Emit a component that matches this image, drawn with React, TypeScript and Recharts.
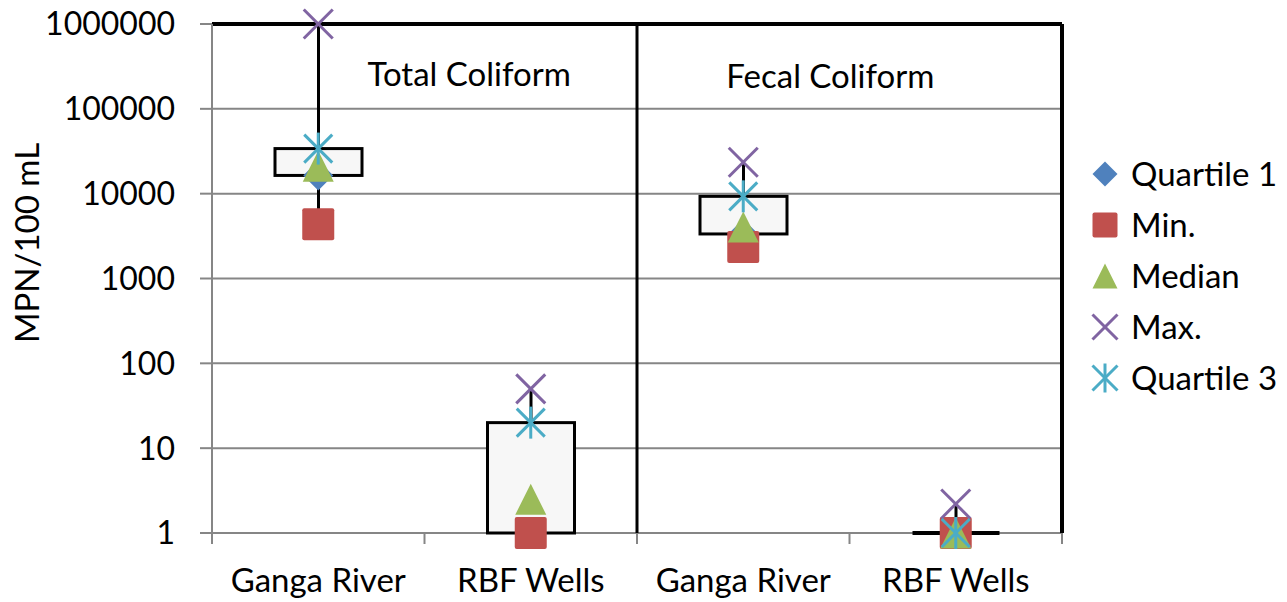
import {
  Bar,
  CartesianGrid,
  ComposedChart,
  Legend,
  ReferenceDot,
  ReferenceLine,
  Scatter,
  XAxis,
  YAxis,
} from 'recharts';

const categories = ['Ganga River', 'RBF Wells', 'Ganga River', 'RBF Wells'];
const quartile1 = [16400, 1, 3350, 1];
const minimum = [4350, 1, 2350, 1];
const median = [21000, 2.5, 4050, 1];
const maximum = [1000000, 50, 23500, 2.2];
const quartile3 = [34000, 20, 9300, 1];
const yTicks = [1, 10, 100, 1000, 10000, 100000, 1000000];
const seriesNames = ['Quartile 1', 'Min.', 'Median', 'Max.', 'Quartile 3'];

const data = categories.map((name, i) => ({
  name,
  x: i + 0.5,
  q1: quartile1[i],
  min: minimum[i],
  median: median[i],
  max: maximum[i],
  q3: quartile3[i],
  box: [quartile1[i], quartile3[i]],
  whisker: [minimum[i], maximum[i]],
}));

const FONT = 'Lato, sans-serif';
const FS = 33;
const GRID = '#868686';

const COLORS = {
  q1: '#4f81bd',
  min: '#c0504d',
  median: '#9bbb59',
  max: '#8064a2',
  q3: '#4bacc6',
};

function marker(kind: string, cx: number, cy: number, s: number) {
  const h = s / 2;
  switch (kind) {
    case 'Quartile 1':
      return (
        <polygon
          points={`${cx},${cy - h} ${cx + h},${cy} ${cx},${cy + h} ${cx - h},${cy}`}
          fill={COLORS.q1}
        />
      );
    case 'Min.':
      return <rect x={cx - h} y={cy - h} width={s} height={s} rx={2} fill={COLORS.min} />;
    case 'Median':
      return (
        <polygon
          points={`${cx},${cy - h} ${cx + h},${cy + h} ${cx - h},${cy + h}`}
          fill={COLORS.median}
        />
      );
    case 'Max.':
      return (
        <g stroke={COLORS.max} strokeWidth={3}>
          <line x1={cx - h} y1={cy - h} x2={cx + h} y2={cy + h} />
          <line x1={cx - h} y1={cy + h} x2={cx + h} y2={cy - h} />
        </g>
      );
    default:
      return (
        <g stroke={COLORS.q3} strokeWidth={3}>
          <line x1={cx - h} y1={cy - h} x2={cx + h} y2={cy + h} />
          <line x1={cx - h} y1={cy + h} x2={cx + h} y2={cy - h} />
          <line x1={cx} y1={cy - h - 2} x2={cx} y2={cy + h + 2} />
        </g>
      );
  }
}

const shapeFor = (kind: string, size: number) => (props: any) => {
  const { cx, cy } = props;
  if (cx == null || cy == null) return <g />;
  return marker(kind, cx, cy, size);
};

function BoxShape(props: any) {
  const { x, y, width, height } = props;
  if (height < 2) {
    return <line x1={x} x2={x + width} y1={y + height} y2={y + height} stroke="#000" strokeWidth={4} />;
  }
  return <rect x={x} y={y} width={width} height={height} fill="#f7f7f7" stroke="#000" strokeWidth={3} />;
}

function WhiskerShape(props: any) {
  const { x, y, width, height } = props;
  const cx = x + width / 2;
  return <line x1={cx} x2={cx} y1={y} y2={y + height} stroke="#000" strokeWidth={3} />;
}

function XTick(props: any) {
  const { x, y, payload } = props;
  const v = payload.value;
  if (Number.isInteger(v)) {
    return <line x1={x} x2={x} y1={y} y2={y + 11} stroke={GRID} strokeWidth={2} />;
  }
  return (
    <text x={x} y={y + 59} textAnchor="middle" fill="#000" fontSize={FS} fontFamily={FONT}>
      {categories[Math.floor(v)]}
    </text>
  );
}

function LegendContent(props: any) {
  const names = (props.payload || []).map((p: any) => p.value);
  return (
    <div style={{ fontFamily: FONT, fontSize: FS, color: '#000', lineHeight: 1, whiteSpace: 'nowrap' }}>
      {seriesNames
        .filter((n) => names.includes(n))
        .map((n) => (
          <div key={n} style={{ display: 'flex', alignItems: 'center', height: 51 }}>
            <svg width={40} height={40} style={{ marginRight: 6, flexShrink: 0 }}>
              {marker(n, 20, 20, 25)}
            </svg>
            <span>{n}</span>
          </div>
        ))}
    </div>
  );
}

function YLabel() {
  const cx = 26;
  const cy = 243;
  return (
    <text
      x={cx}
      y={cy}
      transform={`rotate(-90, ${cx}, ${cy})`}
      textAnchor="middle"
      dominantBaseline="central"
      fontSize={FS}
      fontFamily={FONT}
      fill="#000"
    >
      MPN/100 mL
    </text>
  );
}

export default function App() {
  return (
    <div style={{ position: 'fixed', left: 0, top: 0, background: '#fff' }}>
      <ComposedChart
        width={1287}
        height={602}
        data={data}
        margin={{ top: 24, right: 23, bottom: 0, left: 0 }}
      >
        <CartesianGrid vertical={false} stroke={GRID} strokeWidth={2} />
        <XAxis
          dataKey="x"
          type="number"
          domain={[0, 4]}
          ticks={[0, 0.5, 1, 1.5, 2, 2.5, 3, 3.5, 4]}
          interval={0}
          tick={<XTick />}
          tickLine={false}
          tickSize={0}
          tickMargin={0}
          height={69}
          axisLine={false}
        />
        <XAxis xAxisId="w" dataKey="x" type="number" domain={[0, 4]} hide />
        <YAxis
          scale="log"
          domain={[1, 1000000]}
          ticks={yTicks}
          interval={0}
          width={212}
          tickSize={12}
          tickMargin={25}
          tick={{ fill: '#000', fontSize: 32, fontFamily: FONT }}
          tickLine={{ stroke: GRID, strokeWidth: 2 }}
          axisLine={{ stroke: GRID, strokeWidth: 2 }}
          label={<YLabel />}
        />
        <ReferenceLine y={1000000} stroke="#000" strokeWidth={4} />
        <ReferenceLine x={4} stroke="#000" strokeWidth={4} />
        <ReferenceLine x={2} stroke="#000" strokeWidth={3} />
        <ReferenceDot
          x={1.21}
          y={257000}
          r={0}
          label={{ value: 'Total Coliform', position: 'center', fontSize: FS, fontFamily: FONT, fill: '#000' }}
        />
        <ReferenceDot
          x={2.91}
          y={244000}
          r={0}
          label={{ value: 'Fecal Coliform', position: 'center', fontSize: FS, fontFamily: FONT, fill: '#000' }}
        />
        <Bar
          xAxisId="w"
          dataKey="whisker"
          barSize={3}
          shape={<WhiskerShape />}
          legendType="none"
          isAnimationActive={false}
        />
        <Bar dataKey="box" barSize={87} shape={<BoxShape />} legendType="none" isAnimationActive={false} />
        <Scatter name="Quartile 1" dataKey="q1" fill={COLORS.q1} shape={shapeFor('Quartile 1', 30)} isAnimationActive={false} />
        <Scatter name="Min." dataKey="min" fill={COLORS.min} shape={shapeFor('Min.', 32)} isAnimationActive={false} />
        <Scatter name="Median" dataKey="median" fill={COLORS.median} shape={shapeFor('Median', 31)} isAnimationActive={false} />
        <Scatter name="Max." dataKey="max" fill={COLORS.max} shape={shapeFor('Max.', 29)} isAnimationActive={false} />
        <Scatter name="Quartile 3" dataKey="q3" fill={COLORS.q3} shape={shapeFor('Quartile 3', 28)} isAnimationActive={false} />
        <Legend
          layout="vertical"
          align="right"
          verticalAlign="middle"
          content={<LegendContent />}
          wrapperStyle={{ width: 202, left: 1085, top: 148 }}
        />
      </ComposedChart>
    </div>
  );
}
